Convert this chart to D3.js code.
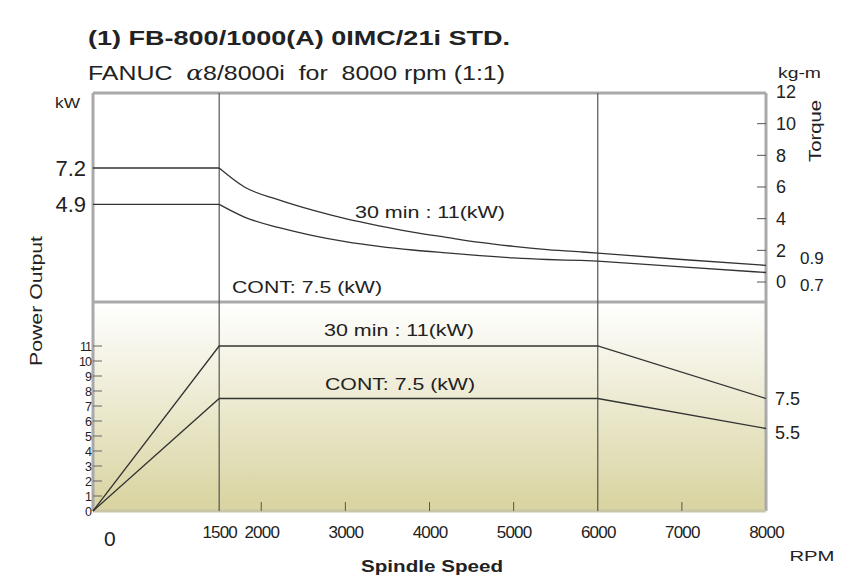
<!DOCTYPE html>
<html>
<head>
<meta charset="utf-8">
<script src="https://cdn.jsdelivr.net/npm/d3@7"></script>
<style>
  body { margin: 0; background: #fff; }
  text { font-family: "Liberation Sans", Arial, sans-serif; fill: #222; }
</style>
</head>
<body>
<div id="chart"></div>
<script>
// Chart data
var rpmTicks = [0, 1500, 2000, 3000, 4000, 5000, 6000, 7000, 8000];
var innerTicks = [2000, 3000, 4000, 5000, 7000];
var torqueTicks = [0, 2, 4, 6, 8, 10, 12];
var powerTicks = [0, 1, 2, 3, 4, 5, 6, 7, 8, 9, 10, 11];

// torque curves (kg-m) vs rpm
var torqueRpm  = [0, 1500, 1800, 2200, 2600, 3000, 3400, 3800, 4200, 4600, 5000, 5400, 5800, 6000, 7000, 8000];
var torque30   = [7.2, 7.2, 6.0, 5.2, 4.55, 4.0, 3.55, 3.15, 2.82, 2.5, 2.25, 2.05, 1.9, 1.83, 1.42, 1.05];
var torqueCont = [4.9, 4.9, 4.1, 3.45, 2.95, 2.55, 2.25, 2.02, 1.84, 1.67, 1.52, 1.42, 1.36, 1.32, 0.95, 0.6];

// power curves (kW) vs rpm
var powerRpm  = [0, 1500, 6000, 8000];
var power30   = [0, 11, 11, 7.5];
var powerCont = [0, 7.5, 7.5, 5.5];

var breakRpm = [1500, 6000];

var svgWidth = 855;
var svgHeight = 579;

var svg = d3.select("#chart")
  .append("svg")
  .attr("width", svgWidth)
  .attr("height", svgHeight);

// scales
var xScale = d3.scaleLinear().domain([0, 8000]).range([93, 766]);
var yTorque = d3.scaleLinear().domain([0, 12]).range([282, 92]);
var yPower = d3.scaleLinear().domain([0, 11]).range([511, 346]);

var plotTop = 93, divider = 302, plotBottom = 511;
var left = xScale(0), right = xScale(8000);

// gradient for lower panel
var defs = svg.append("defs");
var grad = defs.append("linearGradient")
  .attr("id", "lowGrad")
  .attr("x1", 0).attr("y1", 0).attr("x2", 0).attr("y2", 1);
grad.append("stop").attr("offset", "0%").attr("stop-color", "#ffffff");
grad.append("stop").attr("offset", "100%").attr("stop-color", "#d8d39f");

svg.append("rect")
  .attr("x", left).attr("y", divider)
  .attr("width", right - left).attr("height", plotBottom - divider)
  .attr("fill", "url(#lowGrad)");

// frame (grey)
var frame = svg.append("g")
  .attr("stroke", "#a9a9a9")
  .attr("stroke-width", 3)
  .attr("fill", "none");
frame.append("line").attr("x1", left).attr("x2", right).attr("y1", plotTop).attr("y2", plotTop);
frame.append("line").attr("x1", left).attr("x2", right).attr("y1", divider).attr("y2", divider);
frame.append("line").attr("x1", left).attr("x2", left).attr("y1", plotTop).attr("y2", plotBottom);
frame.append("line").attr("x1", right).attr("x2", right).attr("y1", plotTop).attr("y2", plotBottom);
frame.append("line").attr("x1", left).attr("x2", right).attr("y1", plotBottom).attr("y2", plotBottom)
  .attr("stroke", "#c9c6a8");

// vertical break lines at 1500 and 6000
svg.append("g")
  .selectAll("line")
  .data(breakRpm)
  .enter()
  .append("line")
  .attr("x1", d => xScale(d)).attr("x2", d => xScale(d))
  .attr("y1", plotTop).attr("y2", plotBottom)
  .attr("stroke", "#555")
  .attr("stroke-width", 1.2);

// bottom axis: inward ticks, labels below
var bottomAxis = d3.axisBottom(xScale)
  .tickValues(rpmTicks)
  .tickFormat(d3.format("d"))
  .tickSize(0)
  .tickPadding(15);
var xAxisG = svg.append("g")
  .attr("transform", `translate(0, ${plotBottom})`)
  .call(bottomAxis);
xAxisG.select(".domain").remove();
xAxisG.selectAll("text")
  .attr("font-size", "17px")
  .attr("letter-spacing", "-0.8")
  .attr("fill", "#333")
  .attr("font-family", "Liberation Sans, Arial, sans-serif");
xAxisG.selectAll(".tick")
  .filter(d => d === 0)
  .select("text")
  .attr("x", 16)
  .attr("dy", "0.95em")
  .attr("font-size", "21px");

svg.append("g")
  .selectAll("line")
  .data(innerTicks)
  .enter()
  .append("line")
  .attr("x1", d => xScale(d)).attr("x2", d => xScale(d))
  .attr("y1", plotBottom - 9).attr("y2", plotBottom)
  .attr("stroke", "#555")
  .attr("stroke-width", 1);

// right torque axis (ticks point inward, labels outside)
var rightAxis = d3.axisRight(yTorque)
  .tickValues(torqueTicks)
  .tickSize(0)
  .tickPadding(10);
var tAxisG = svg.append("g")
  .attr("transform", `translate(${right}, 0)`)
  .call(rightAxis);
tAxisG.select(".domain").remove();
tAxisG.selectAll("text")
  .attr("font-size", "18px")
  .attr("fill", "#333")
  .attr("font-family", "Liberation Sans, Arial, sans-serif");
svg.append("g")
  .selectAll("line")
  .data(torqueTicks.filter(d => d < 12))
  .enter()
  .append("line")
  .attr("x1", right - 9).attr("x2", right)
  .attr("y1", d => yTorque(d)).attr("y2", d => yTorque(d))
  .attr("stroke", "#555");

// left power axis (lower panel)
var leftAxis = d3.axisRight(yPower)
  .tickValues(powerTicks)
  .tickSize(0)
  .tickPadding(0);
var pAxisG = svg.append("g")
  .attr("transform", `translate(${left}, 0)`)
  .call(leftAxis);
pAxisG.select(".domain").remove();
pAxisG.selectAll("text")
  .attr("x", -2)
  .attr("text-anchor", "end")
  .attr("font-size", "12.5px")
  .attr("letter-spacing", "-1")
  .attr("fill", "#333")
  .attr("font-family", "Liberation Sans Narrow, Liberation Sans, Arial, sans-serif");
svg.append("g")
  .selectAll("line")
  .data(powerTicks.filter(d => d > 0))
  .enter()
  .append("line")
  .attr("x1", left).attr("x2", left + 9)
  .attr("y1", d => yPower(d)).attr("y2", d => yPower(d))
  .attr("stroke", "#666");

// curves
var straight = d3.line()
  .x(d => xScale(d[0]))
  .y(d => yTorque(d[1]));
var smooth = d3.line()
  .x(d => xScale(d[0]))
  .y(d => yTorque(d[1]))
  .curve(d3.curveMonotoneX);
var powerLine = d3.line()
  .x(d => xScale(d[0]))
  .y(d => yPower(d[1]));

var curves = svg.append("g")
  .attr("fill", "none")
  .attr("stroke", "#333")
  .attr("stroke-width", 1.3);

[torque30, torqueCont].forEach(function(series) {
  var pts = d3.zip(torqueRpm, series);
  var i1500 = torqueRpm.indexOf(1500);
  var i6000 = torqueRpm.indexOf(6000);
  curves.append("path").attr("d", straight(pts.slice(0, i1500 + 1)));
  curves.append("path").attr("d", smooth(pts.slice(i1500, i6000 + 1)));
  curves.append("path").attr("d", smooth(pts.slice(i6000)));
});
curves.append("path").attr("d", powerLine(d3.zip(powerRpm, power30)));
curves.append("path").attr("d", powerLine(d3.zip(powerRpm, powerCont)));

// titles
svg.append("text")
  .attr("x", 88).attr("y", 45)
  .attr("font-size", "21px")
  .attr("font-weight", "bold")
  .attr("textLength", 422)
  .attr("lengthAdjust", "spacingAndGlyphs")
  .text("(1) FB-800/1000(A) 0IMC/21i STD.");

var sub = svg.append("text")
  .attr("x", 88).attr("y", 80)
  .attr("font-size", "21px")
  .attr("textLength", 417)
  .attr("lengthAdjust", "spacingAndGlyphs");
sub.append("tspan").text("FANUC\u00a0\u00a0");
sub.append("tspan").attr("font-style", "italic").attr("font-family", "DejaVu Serif, serif").text("\u03b1");
sub.append("tspan").text("8/8000i\u00a0\u00a0for\u00a0\u00a08000 rpm (1:1)");

// unit / axis labels
function label(x, y, t, w, opts) {
  var el = svg.append("text")
    .attr("x", x).attr("y", y)
    .attr("font-size", (opts && opts.size) || "15px")
    .attr("textLength", w)
    .attr("lengthAdjust", "spacingAndGlyphs")
    .text(t);
  if (opts && opts.anchor) el.attr("text-anchor", opts.anchor);
  if (opts && opts.bold) el.attr("font-weight", "bold");
  if (opts && opts.transform) el.attr("transform", opts.transform);
  return el;
}
label(55, 108, "kW", 25);
label(778, 78, "kg-m", 43);
label(0, 0, "Torque", 62, { anchor: "middle", transform: "translate(821, 131) rotate(-90)", size: "16px" });
label(0, 0, "Power Output", 130, { anchor: "middle", transform: "translate(42, 301) rotate(-90)", size: "16px" });
label(432, 572, "Spindle Speed", 142, { anchor: "middle", bold: true, size: "16px" });
label(812, 561, "RPM", 45, { anchor: "middle" });

// left torque values at start
svg.append("g")
  .selectAll("text")
  .data([torque30[0], torqueCont[0]])
  .enter()
  .append("text")
  .attr("x", 86)
  .attr("y", d => yTorque(d))
  .attr("dy", "0.36em")
  .attr("text-anchor", "end")
  .attr("font-size", "22px")
  .text(d => d.toFixed(1));

// right end values
svg.append("text").attr("x", 800).attr("y", 258).attr("dy", "0.36em")
  .attr("font-size", "17px").text("0.9");
svg.append("text").attr("x", 800).attr("y", 285).attr("dy", "0.36em")
  .attr("font-size", "17px").text("0.7");
svg.append("g")
  .selectAll("text")
  .data([power30[3], powerCont[3]])
  .enter()
  .append("text")
  .attr("x", 775)
  .attr("y", d => yPower(d) + (d < 7 ? 4 : 0))
  .attr("dy", "0.36em")
  .attr("font-size", "18px")
  .text(d => d.toFixed(1));

// curve labels
var lbl = [
  { t: "30 min : 11(kW)", x: 430, y: 212 },
  { t: "CONT: 7.5 (kW)", x: 307, y: 287 },
  { t: "30 min : 11(kW)", x: 399, y: 330 },
  { t: "CONT: 7.5 (kW)", x: 400, y: 384 }
];
svg.append("g")
  .selectAll("text")
  .data(lbl)
  .enter()
  .append("text")
  .attr("x", d => d.x)
  .attr("y", d => d.y)
  .attr("dy", "0.36em")
  .attr("text-anchor", "middle")
  .attr("font-size", "17px")
  .attr("textLength", 150)
  .attr("lengthAdjust", "spacingAndGlyphs")
  .text(d => d.t);
</script>
</body>
</html>
